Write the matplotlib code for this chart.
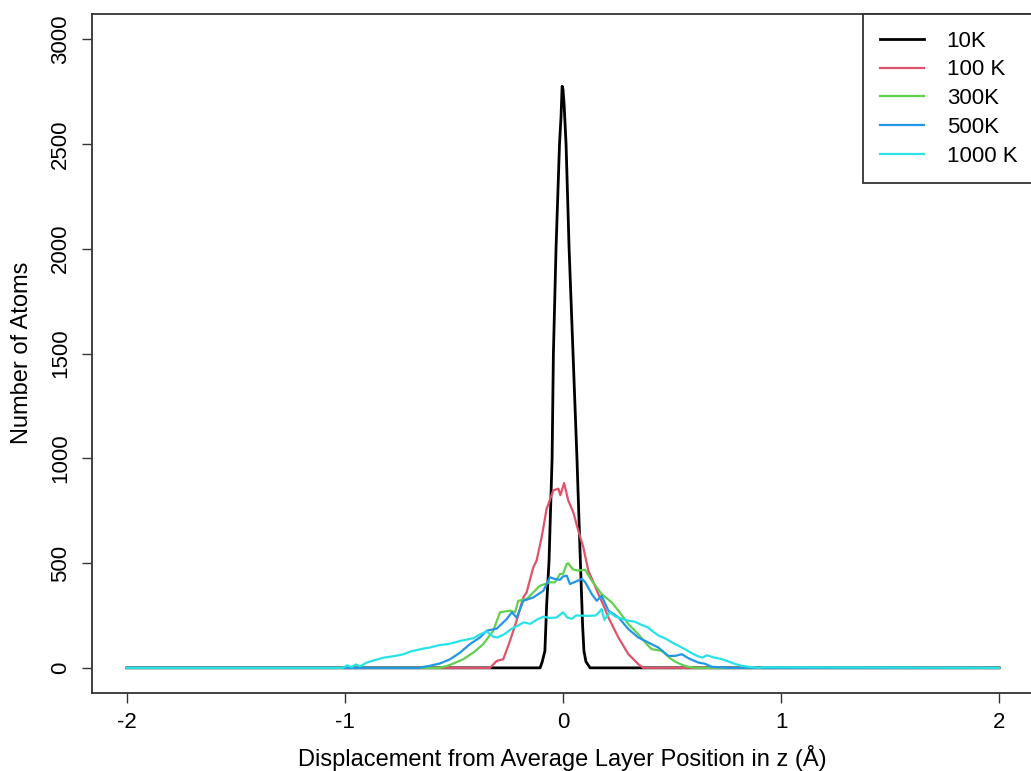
import numpy as np
import matplotlib
matplotlib.use("Agg")
import matplotlib.pyplot as plt

plt.rcParams['font.family'] = ['Liberation Sans', 'DejaVu Sans']
plt.rcParams['axes.unicode_minus'] = False

# values (displacement in A, number of atoms)
x_10k = [-2, -0.105, -0.095, -0.083, -0.075, -0.064, -0.05, -0.044, -0.032, -0.016, -0.009, -0.004,
         0.0, 0.005, 0.014, 0.028, 0.046, 0.064, 0.078, 0.09, 0.096, 0.105, 0.124, 2.0]
y_10k = [0, 0, 30, 81, 300, 512, 1000, 1500, 2000, 2500, 2630, 2775,
         2760, 2690, 2500, 2000, 1500, 1000, 560, 200, 81, 30, 0, 0]

x_100k = [-2, -0.335, -0.304, -0.274, -0.243, -0.213, -0.182, -0.167, -0.136, -0.121, -0.098, -0.075,
          -0.044, -0.021, -0.012, 0.005, 0.024, 0.047, 0.070, 0.093, 0.116, 0.139, 0.162, 0.185,
          0.208, 0.254, 0.300, 0.345, 0.368, 2.0]
y_100k = [0, 0, 33, 41, 129, 225, 336, 360, 480, 512, 623, 759,
          847, 855, 824, 882, 799, 743, 655, 576, 464, 410, 352, 300,
          241, 145, 65, 18, 0, 0]

x_300k = [-2, -0.564, -0.518, -0.457, -0.411, -0.366, -0.320, -0.289, -0.243, -0.220, -0.205, -0.167,
          -0.106, -0.060, -0.037, -0.014, 0.0, 0.017, 0.024, 0.045, 0.070, 0.101, 0.132, 0.177,
          0.223, 0.254, 0.300, 0.345, 0.384, 0.407, 0.453, 0.491, 0.514, 0.545, 0.575, 0.606, 2.0]
y_300k = [0, 0, 14, 41, 73, 113, 177, 265, 273, 265, 320, 328,
          392, 408, 408, 448, 448, 496, 499, 470, 464, 468, 416, 352,
          313, 273, 209, 161, 113, 89, 81, 46, 30, 15, 5, 0, 0]

x_500k = [-2, -0.664, -0.61, -0.564, -0.518, -0.472, -0.427, -0.381, -0.35, -0.304, -0.258, -0.235,
          -0.212, -0.182, -0.136, -0.09, -0.06, -0.037, -0.014, 0.0, 0.017, 0.032, 0.055, 0.086,
          0.101, 0.132, 0.155, 0.177, 0.208, 0.254, 0.30, 0.345, 0.391, 0.437, 0.483, 0.514,
          0.545, 0.575, 0.621, 0.65, 0.682, 0.72, 0.758, 2.0]
y_500k = [0, 0, 10, 21, 41, 73, 113, 145, 177, 187, 233, 265,
          240, 320, 336, 368, 432, 424, 420, 436, 440, 400, 410, 424,
          410, 352, 320, 344, 273, 241, 185, 145, 121, 97, 57, 57,
          65, 46, 25, 20, 5, 3, 0, 0]

x_1000k = [-2, -1.01, -0.99, -0.97, -0.95, -0.93, -0.90, -0.86, -0.82, -0.78, -0.73, -0.70,
           -0.67, -0.64, -0.61, -0.57, -0.53, -0.50, -0.47, -0.44, -0.41, -0.38, -0.35, -0.32,
           -0.30, -0.27, -0.235, -0.21, -0.18, -0.15, -0.12, -0.09, -0.06, -0.03, 0.0, 0.02,
           0.04, 0.06, 0.09, 0.12, 0.15, 0.165, 0.177, 0.19, 0.215, 0.24, 0.27, 0.30,
           0.33, 0.36, 0.39, 0.41, 0.44, 0.47, 0.50, 0.53, 0.56, 0.59, 0.62, 0.64,
           0.66, 0.69, 0.73, 0.76, 0.79, 0.82, 0.85, 0.88, 0.90, 0.92, 2.0]
y_1000k = [0, 0, 12, 4, 16, 8, 25, 38, 49, 55, 65, 78,
           85, 92, 97, 108, 113, 120, 129, 135, 142, 160, 174, 148,
           145, 160, 187, 200, 217, 210, 230, 244, 238, 240, 265, 240,
           234, 250, 249, 248, 250, 265, 281, 230, 265, 245, 234, 225,
           220, 205, 193, 175, 153, 140, 121, 105, 89, 70, 55, 49,
           60, 50, 41, 30, 18, 10, 5, 2, 0, 3, 0]

labels = ["10K", "100 K", "300K", "500K", "1000 K"]
colors = ["#000000", "#DF536B", "#61D04F", "#2297E6", "#28E2E5"]
series = [(x_10k, y_10k), (x_100k, y_100k), (x_300k, y_300k), (x_500k, y_500k), (x_1000k, y_1000k)]

W, H = 1031, 771
fig = plt.figure(figsize=(W / 100, H / 100), dpi=100)
ax = fig.add_axes([92 / W, 1 - 693 / H, (1034 - 92) / W, (693 - 14) / H])

for (xs, ys), c, lab in zip(series, colors, labels):
    ax.plot(xs, ys, color=c, lw=2.0 if c == "#000000" else 1.6, label=lab)

ax.set_xlim(-2.16, 2.16)
ax.set_ylim(-120, 3120)
ax.set_xticks([-2, -1, 0, 1, 2])
ax.set_yticks([0, 500, 1000, 1500, 2000, 2500, 3000])
ax.tick_params(axis='both', direction='out', length=7, width=1, labelsize=16, color='#333333')
ax.tick_params(axis='x', pad=7)
ax.tick_params(axis='y', pad=8)
for t in ax.get_yticklabels():
    t.set_rotation(90)
    t.set_va('center')
for s in ax.spines.values():
    s.set_linewidth(1.3)
    s.set_color('#333333')

fig.text(562 / W, 1 - 766 / H, "Displacement from Average Layer Position in z (Å)",
         ha='center', va='baseline', fontsize=17)
fig.text(28 / W, 1 - 353 / H, "Number of Atoms", ha='center', va='baseline',
         rotation=90, rotation_mode='anchor', fontsize=17)

leg = ax.legend(loc='upper right', bbox_to_anchor=(1, 1), borderaxespad=0, fontsize=16,
                fancybox=False, edgecolor='#333333', framealpha=1, handlelength=2.0,
                handletextpad=1.0, labelspacing=0.35, borderpad=0.75)
leg.get_frame().set_linewidth(1.3)

fig.savefig("out.png", dpi=100)
